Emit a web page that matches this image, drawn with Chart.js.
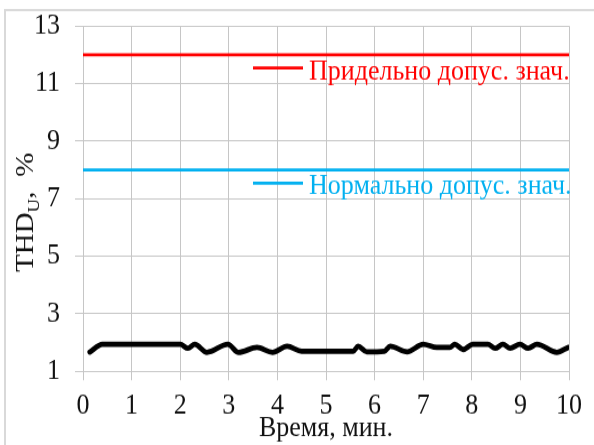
<!DOCTYPE html>
<html>
<head>
<meta charset="utf-8">
<script src="https://cdn.jsdelivr.net/npm/chart.js@4.4.1/dist/chart.umd.min.js"></script>
<style>
body { margin: 0; background: #fff; overflow: hidden; }
/* the source picture is stretched vertically, so the canvas is too */
#wrap { width: 594px; height: 445px; }
#chart1 { transform-origin: 0 0; }
</style>
</head>
<body>
<div id="wrap"><canvas id="chart1"></canvas></div>
<script>
// THD of voltage over 10 minutes
var times = [0.14, 0.4, 1.0, 1.5, 2.0, 2.16, 2.3, 2.55, 2.98, 3.2, 3.58, 3.9, 4.2, 4.5, 5.0, 5.56, 5.66, 5.84, 6.2, 6.32, 6.67, 7.0, 7.28, 7.55, 7.65, 7.82, 8.02, 8.33, 8.48, 8.64, 8.79, 8.99, 9.16, 9.34, 9.75, 9.98];
var thd = [1.67, 1.94, 1.94, 1.94, 1.94, 1.8, 1.94, 1.66, 1.94, 1.66, 1.83, 1.66, 1.87, 1.7, 1.7, 1.7, 1.87, 1.68, 1.7, 1.87, 1.68, 1.94, 1.83, 1.83, 1.94, 1.76, 1.94, 1.94, 1.8, 1.94, 1.8, 1.94, 1.8, 1.94, 1.66, 1.83];

// limit lines
var limitTimes = [0, 10];
var maxPermitted = [12, 12];
var normPermitted = [8, 8];
var maxLabel = 'Придельно допус. знач.';
var normLabel = 'Нормально допус. знач.';

var xTitle = 'Время, мин.';
var yMin = 1, yMax = 13, yStep = 2;
var xMin = 0, xMax = 10, xStep = 1;

var serif = '"Liberation Serif", "Times New Roman", serif';
var gridColor = '#c6c6c6';

// vertical stretch of the whole picture
var S = 1.12;
var W = 594, H = Math.round(445 / S);

var canvas = document.getElementById('chart1');
canvas.width = W;
canvas.height = H;
canvas.style.width = W + 'px';
canvas.style.height = H + 'px';
canvas.style.transform = 'scaleY(' + (445 / H) + ')';

function toPoints(xs, ys) {
    return xs.map((x, i) => ({ x: x, y: ys[i] }));
}

// frame, axis titles and the legend drawn inside the plot
var decorations = {
    id: 'decorations',
    beforeDraw(chart) {
        var ctx = chart.ctx;
        ctx.save();
        ctx.strokeStyle = '#d9d9d9';
        ctx.lineWidth = 2;
        ctx.beginPath();
        ctx.moveTo(5, H);
        ctx.lineTo(5, 10 / S);
        ctx.lineTo(W, 10 / S);
        ctx.stroke();
        ctx.restore();
    },
    afterDraw(chart) {
        var ctx = chart.ctx;
        ctx.save();
        ctx.fillStyle = '#111';
        ctx.textBaseline = 'alphabetic';

        // x title
        ctx.font = '26px ' + serif;
        ctx.textAlign = 'center';
        ctx.fillText(xTitle, (chart.chartArea.left + chart.chartArea.right) / 2, 436 / S);

        // y title THD_U, %
        ctx.translate(33, 272 / S);
        ctx.rotate(-Math.PI / 2);
        ctx.textAlign = 'left';
        ctx.font = '26px ' + serif;
        ctx.fillText('THD', 0, 0);
        var w = ctx.measureText('THD').width;
        ctx.font = '17px ' + serif;
        ctx.fillText('U', w, 6);
        w += ctx.measureText('U').width;
        ctx.font = '26px ' + serif;
        ctx.fillText(',  %', w, 0);
        ctx.restore();

        // legend
        ctx.save();
        ctx.font = '26px ' + serif;
        ctx.textAlign = 'left';
        [[0, 68], [1, 183]].forEach(function (e) {
            var ds = chart.data.datasets[e[0]];
            var y = e[1] / S;
            ctx.strokeStyle = ds.borderColor;
            ctx.lineWidth = 2.7;
            ctx.beginPath();
            ctx.moveTo(253, y);
            ctx.lineTo(303, y);
            ctx.stroke();
            ctx.fillStyle = ds.borderColor;
            ctx.fillText(ds.label, 309, y + 11 / S);
        });
        ctx.restore();
    }
};

var chart1Ctx = canvas.getContext('2d');
var chart1 = new Chart(chart1Ctx, {
    type: 'line',
    data: {
        datasets: [{
            label: maxLabel,
            data: toPoints(limitTimes, maxPermitted),
            borderColor: '#ff0000',
            borderWidth: 2.7,
            pointRadius: 0
        }, {
            label: normLabel,
            data: toPoints(limitTimes, normPermitted),
            borderColor: '#00b0f0',
            borderWidth: 2.7,
            pointRadius: 0
        }, {
            label: 'THD',
            data: toPoints(times, thd),
            borderColor: '#000000',
            borderWidth: 4.8,
            pointRadius: 0,
            cubicInterpolationMode: 'monotone',
            borderCapStyle: 'round',
            borderJoinStyle: 'round'
        }]
    },
    options: {
        responsive: false,
        animation: false,
        devicePixelRatio: 1,
        layout: { padding: { top: 26 / S, right: 25, left: 0, bottom: 0 } },
        plugins: { legend: { display: false }, tooltip: { enabled: false } },
        scales: {
            x: {
                type: 'linear',
                min: xMin,
                max: xMax,
                afterFit(scale) {
                    scale.height = H - 371 / S;
                    scale.paddingLeft = 0;
                    scale.paddingRight = 0;
                },
                grid: { color: gridColor, tickLength: 8, tickColor: gridColor },
                border: { color: gridColor },
                ticks: { stepSize: xStep, color: '#111', padding: 7, font: { family: serif, size: 26 } }
            },
            y: {
                min: yMin,
                max: yMax,
                afterFit(scale) {
                    scale.width = 83;
                    scale.paddingTop = 0;
                    scale.paddingBottom = 0;
                },
                grid: { color: gridColor, tickLength: 8, tickColor: gridColor },
                border: { color: gridColor },
                ticks: { stepSize: yStep, color: '#111', padding: 15, font: { family: serif, size: 26 } }
            }
        }
    },
    plugins: [decorations]
});
</script>
</body>
</html>
